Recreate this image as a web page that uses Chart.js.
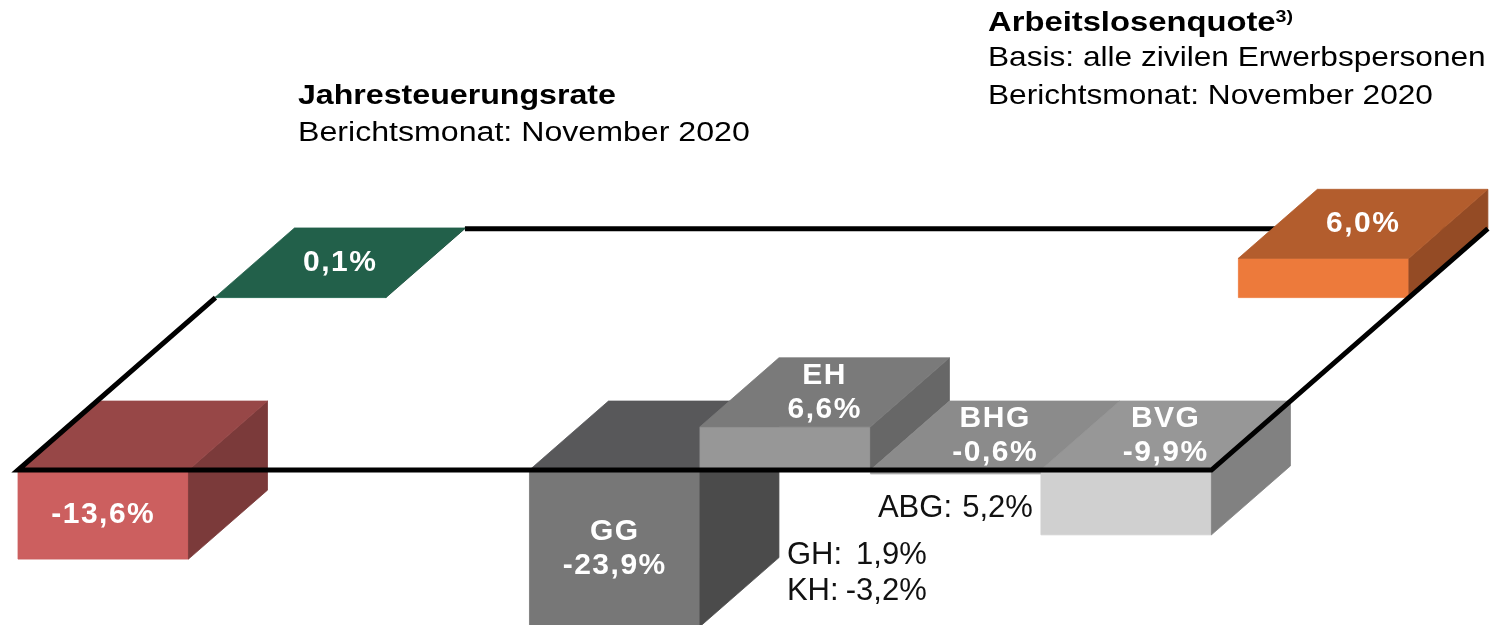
<!DOCTYPE html>
<html lang="de">
<head>
<meta charset="utf-8">
<title>Jahresteuerungsrate / Arbeitslosenquote</title>
<script src="https://cdn.jsdelivr.net/npm/chart.js@4.4.1/dist/chart.umd.min.js"></script>
<style>
  html, body { margin: 0; padding: 0; background: #fff; }
  #wrap { position: relative; width: 1490px; height: 625px; overflow: hidden; }
  #wrap canvas { position: absolute; left: 0; top: 0; }
  .head {
    position: absolute;
    font-family: "Liberation Sans", Arial, sans-serif;
    color: #000;
    line-height: 1;
    white-space: nowrap;
    transform-origin: 0 0;
  }
  .head b sup { font-size: 60%; vertical-align: 0.55em; line-height: 0; }
</style>
</head>
<body>
<div id="wrap">
  <canvas id="boxChart" width="1490" height="625"></canvas>

  <div class="head" style="left:298px; top:82px; font-size:27px; transform:scaleX(1.19)"><b>Jahresteuerungsrate</b></div>
  <div class="head" style="left:298px; top:119px; font-size:27px; transform:scaleX(1.19)">Berichtsmonat: November 2020</div>

  <div class="head" style="left:988px; top:8px; font-size:28px; transform:scaleX(1.17)"><b>Arbeitslosenquote<sup>3)</sup></b></div>
  <div class="head" style="left:988px; top:43px; font-size:28px; transform:scaleX(1.13)">Basis: alle zivilen Erwerbspersonen</div>
  <div class="head" style="left:988px; top:81px; font-size:28px; transform:scaleX(1.13)">Berichtsmonat: November 2020</div>
</div>

<script>
// Werte aus der Grafik (Veränderung in %)
const boxNames = ["", "", "", "GG", "EH", "BHG", "BVG"];
const boxValues = [-13.6, 0.1, 6.0, -23.9, 6.6, -0.6, -9.9];

// kleine Zusatzangaben neben den Quadern
const noteNames = ["ABG", "GH", "KH"];
const noteValues = [5.2, 1.9, -3.2];

// Lage der Quader auf der Ebene (Spalte, Tiefe) und Beschriftungsseite
const boxSlot = [0, 0, 6, 3, 4, 5, 6];
const boxRow = [0, 2.5, 2.5, 0, 0, 0, 0];
const boxLabelFace = ["front", "top", "top", "front", "top", "top", "top"];

const boxColors = [
  { front: "#cc5f5f", top: "#974747", side: "#7b3a3a" }, // rot
  { front: "#2c7259", top: "#22604a", side: "#1b4d3b" }, // grün
  { front: "#ed7a3b", top: "#b35d2d", side: "#944b25" }, // orange
  { front: "#777777", top: "#58585a", side: "#4b4b4b" }, // GG
  { front: "#979797", top: "#7a7a7a", side: "#676767" }, // EH
  { front: "#a9a9a9", top: "#8b8b8b", side: "#7c7c7c" }, // BHG
  { front: "#d0d0d0", top: "#979797", side: "#818181" }, // BVG
];

// Position der Zusatzangaben (Name links, Wert rechtsbündig)
const noteNameX = [5.044, 4.51, 4.51];
const noteValueX = [5.953, 5.33, 5.33];
const noteLevel = [-5.8, -13.0, -18.6];

// schräge Projektion: eine Tiefeneinheit verschiebt nach rechts oben
const depthX = 0.4633;
const depthY = 10.53;

const FONT = '"Liberation Sans", Arial, sans-serif';

function fmt(v) {
  return v.toFixed(1).replace(".", ",") + "%";
}

const boxPlugin = {
  id: "boxes3d",
  afterDatasetsDraw(chart) {
    const { ctx } = chart;
    const xs = chart.scales.x;
    const ys = chart.scales.y;

    // Punkt auf der Ebene: u = Spalte, v = Tiefe, h = Wert
    const P = (u, v, h) => [
      xs.getPixelForValue(u + v * depthX),
      ys.getPixelForValue(h + v * depthY),
    ];

    const poly = (pts, color) => {
      ctx.beginPath();
      ctx.moveTo(pts[0][0], pts[0][1]);
      pts.slice(1).forEach((p) => ctx.lineTo(p[0], p[1]));
      ctx.closePath();
      ctx.fillStyle = color;
      ctx.strokeStyle = color;
      ctx.lineWidth = 0.8;
      ctx.fill();
      ctx.stroke();
    };

    const drawBox = (i) => {
      const u0 = boxSlot[i], u1 = u0 + 1;
      const v0 = boxRow[i], v1 = v0 + 1;
      const lo = Math.min(0, boxValues[i]);
      const hi = Math.max(0, boxValues[i]);
      const c = boxColors[i];

      poly([P(u0, v0, lo), P(u1, v0, lo), P(u1, v0, hi), P(u0, v0, hi)], c.front);
      poly([P(u1, v0, lo), P(u1, v1, lo), P(u1, v1, hi), P(u1, v0, hi)], c.side);
      poly([P(u0, v0, hi), P(u1, v0, hi), P(u1, v1, hi), P(u0, v1, hi)], c.top);
    };

    const drawLabel = (i) => {
      const u0 = boxSlot[i], v0 = boxRow[i];
      const lo = Math.min(0, boxValues[i]);
      const hi = Math.max(0, boxValues[i]);
      const [cx, cy] = boxLabelFace[i] === "front"
        ? P(u0 + 0.5, v0, (lo + hi) / 2)
        : P(u0 + 0.5, v0 + 0.5, hi);

      ctx.save();
      ctx.fillStyle = "#ffffff";
      ctx.font = "bold 30px " + FONT;
      ctx.letterSpacing = "1.5px";
      ctx.textAlign = "center";
      ctx.textBaseline = "middle";
      if (boxNames[i]) {
        ctx.fillText(boxNames[i], cx, cy - 17);
        ctx.fillText(fmt(boxValues[i]), cx, cy + 17);
      } else {
        ctx.fillText(fmt(boxValues[i]), cx, cy);
      }
      ctx.restore();
    };

    const line = (pts) => {
      ctx.save();
      ctx.beginPath();
      ctx.moveTo(pts[0][0], pts[0][1]);
      pts.slice(1).forEach((p) => ctx.lineTo(p[0], p[1]));
      ctx.strokeStyle = "#000000";
      ctx.lineWidth = 5;
      ctx.lineJoin = "miter";
      ctx.lineCap = "butt";
      ctx.stroke();
      ctx.restore();
    };

    const front = boxRow.map((r, i) => i).filter((i) => boxRow[i] === 0)
      .sort((a, b) => boxSlot[a] - boxSlot[b]);
    const back = boxRow.map((r, i) => i).filter((i) => boxRow[i] > 0);

    // vordere Reihe
    front.forEach(drawBox);

    // hintere Kante der Ebene, wird vom orangen Quader verdeckt
    line([P(1, 3.5, 0), P(7, 3.5, 0)]);

    // hintere Reihe
    back.forEach(drawBox);

    // linke, vordere und rechte Kante
    line([P(0, 2.5, 0), P(0, 0, 0), P(7, 0, 0), P(7, 3.5, 0)]);

    front.concat(back).forEach(drawLabel);

    // Zusatzangaben
    ctx.save();
    ctx.fillStyle = "#111111";
    ctx.font = "31px " + FONT;
    ctx.textBaseline = "middle";
    noteNames.forEach((name, i) => {
      const y = ys.getPixelForValue(noteLevel[i]);
      ctx.textAlign = "left";
      ctx.fillText(name + ":", xs.getPixelForValue(noteNameX[i]), y);
      ctx.textAlign = "right";
      ctx.fillText(fmt(noteValues[i]), xs.getPixelForValue(noteValueX[i]), y);
    });
    ctx.restore();
  },
};

const ctx = document.getElementById("boxChart").getContext("2d");

const boxChart = new Chart(ctx, {
  type: "scatter",
  data: {
    datasets: [
      {
        data: boxValues.map((v, i) => ({ x: boxSlot[i], y: v })),
        pointRadius: 0,
        pointHoverRadius: 0,
      },
    ],
  },
  options: {
    responsive: false,
    animation: false,
    devicePixelRatio: 1,
    layout: { padding: 0 },
    plugins: {
      legend: { display: false },
      tooltip: { enabled: false },
    },
    scales: {
      x: { type: "linear", display: false, min: -0.1056, max: 8.634 },
      y: { type: "linear", display: false, min: -23.66, max: 71.76 },
    },
  },
  plugins: [boxPlugin],
});
</script>
</body>
</html>
